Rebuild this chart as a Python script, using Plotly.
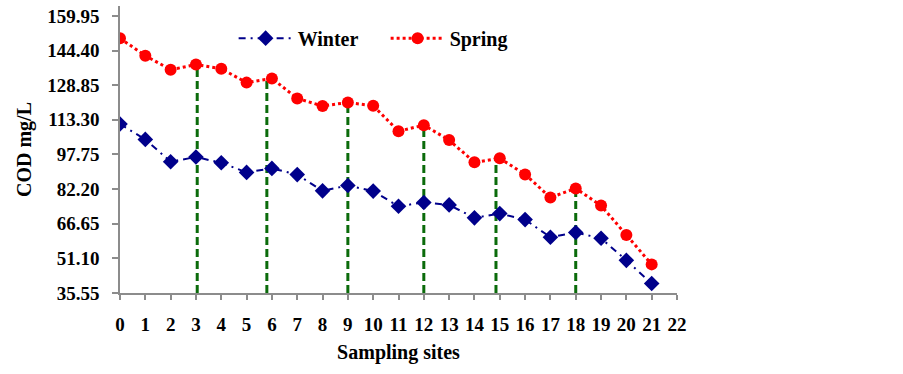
import plotly.graph_objects as go

sites = list(range(22))
winter = [111.4, 104.5, 94.5, 96.6, 94.0, 89.7, 91.5, 88.7, 81.4, 83.8, 81.3,
          74.5, 76.2, 75.1, 69.3, 71.2, 68.5, 60.6, 62.7, 60.1, 50.2, 39.8]
spring = [149.9, 142.1, 135.8, 138.1, 136.2, 130.0, 131.9, 122.9, 119.5, 121.1, 119.6,
          108.2, 110.9, 104.2, 94.2, 96.0, 88.8, 78.4, 82.5, 74.8, 61.6, 48.4]
drop_x = [3.05, 5.8, 9, 12, 14.85, 18]
drop_site = [3, 6, 9, 12, 15, 18]
y_ticks = [35.55, 51.10, 66.65, 82.20, 97.75, 113.30, 128.85, 144.40, 159.95]
y_tick_text = ["35.55", "51.10", "66.65", "82.20", "97.75", "113.30", "128.85", "144.40", "159.95"]
x_ticks = list(range(23))

FONT = "Liberation Serif"
y_min = y_ticks[0]

gx, gy = [], []
for xv, s in zip(drop_x, drop_site):
    gx += [xv, xv, None]
    gy += [y_min, spring[s], None]

fig = go.Figure()
fig.add_trace(go.Scatter(x=gx, y=gy, mode="lines", showlegend=False, hoverinfo="skip",
                         line=dict(color="#0b6b0b", width=3, dash="8px,4px")))
fig.add_trace(go.Scatter(x=sites, y=winter, name="Winter", mode="lines+markers",
                         line=dict(color="#00008b", width=2, dash="7px,5px,2px,5px"),
                         marker=dict(symbol="diamond", size=12, color="#00008b")))
fig.add_trace(go.Scatter(x=sites, y=spring, name="Spring", mode="lines+markers",
                         line=dict(color="#ff0000", width=3, dash="dot"),
                         marker=dict(symbol="circle", size=12, color="#ff0000")))

fig.update_layout(
    width=903, height=374,
    margin=dict(l=120, r=226, t=6, b=81, autoexpand=False),
    paper_bgcolor="white", plot_bgcolor="white",
    font=dict(family=FONT, color="black"),
    legend=dict(orientation="h", x=0.204, y=0.888, xanchor="left", yanchor="middle",
                font=dict(family=FONT, size=20, color="black", weight="bold"),
                bgcolor="rgba(0,0,0,0)", itemwidth=54, entrywidth=83, entrywidthmode="pixels",
                traceorder="normal"),
    showlegend=True,
)
fig.update_xaxes(range=[0, 22], tickvals=x_ticks, ticktext=[str(v) for v in x_ticks],
                 showgrid=False, zeroline=False, showline=True, linecolor="#8c8c8c", linewidth=1.5,
                 ticks="outside", ticklen=5, tickcolor="#8c8c8c", tickwidth=1.5,
                 ticklabelstandoff=8, automargin=False,
                 tickfont=dict(family=FONT, size=19, color="black", weight="bold"),
                 title=dict(text="Sampling sites", standoff=11,
                            font=dict(family=FONT, size=20, color="black", weight="bold")))
fig.update_yaxes(range=[y_min, 164.4], tickvals=y_ticks, ticktext=y_tick_text,
                 showgrid=False, zeroline=False, showline=True, linecolor="#8c8c8c", linewidth=1.5,
                 ticks="outside", ticklen=6, tickcolor="#8c8c8c", tickwidth=1.5,
                 ticklabelstandoff=9, automargin=False,
                 tickfont=dict(family=FONT, size=19, color="black", weight="bold"),
                 title=dict(text="COD mg/L", standoff=10,
                            font=dict(family=FONT, size=20, color="black", weight="bold")))

fig.write_html("out.html", config={"displayModeBar": False},
               post_script="document.body.style.margin='0';document.body.style.overflow='hidden';")
